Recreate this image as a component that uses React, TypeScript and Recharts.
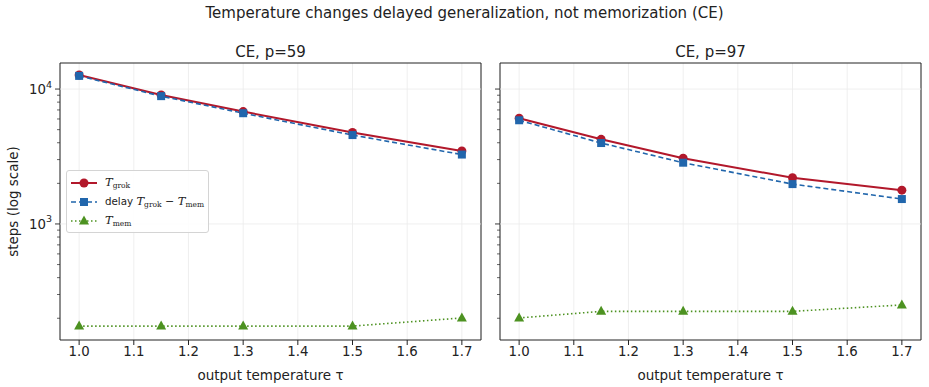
import { LineChart, Line, XAxis, YAxis, CartesianGrid, ReferenceLine, ReferenceArea, Legend } from 'recharts'

const temps = [1.0, 1.15, 1.3, 1.5, 1.7]
const xTicks = [1.0, 1.1, 1.2, 1.3, 1.4, 1.5, 1.6, 1.7]
const yTicks = [200, 300, 400, 500, 600, 700, 800, 900, 1000, 2000, 3000, 4000, 5000, 6000, 7000, 8000, 9000, 10000]

const grok59 = [12700, 9030, 6810, 4760, 3475]
const delay59 = [12520, 8860, 6620, 4560, 3270]
const mem59 = [175, 175, 175, 175, 201]

const grok97 = [6070, 4240, 3070, 2200, 1780]
const delay97 = [5870, 3980, 2845, 1975, 1530]
const mem97 = [201, 225, 225, 225, 251]

const RED = '#b2182b'
const BLUE = '#2166ac'
const GREEN = '#4d9221'
const FONT = '"DejaVu Sans", sans-serif'
const MATH = '"DejaVu Serif", serif'

const X_DOMAIN = [0.965, 1.735]
const Y_DOMAIN = [138, 15600]

function Circle(props: any) {
    const { cx, cy, index } = props
    return <circle key={'c' + index} cx={cx} cy={cy} r={4.5} fill={RED} />
}

function Square(props: any) {
    const { cx, cy, index } = props
    return <rect key={'s' + index} x={cx - 4} y={cy - 4} width={8} height={8} fill={BLUE} />
}

function Tri(props: any) {
    const { cx, cy, index } = props
    return <polygon key={'t' + index} points={`${cx},${cy - 5.5} ${cx - 5},${cy + 3.5} ${cx + 5},${cy + 3.5}`} fill={GREEN} />
}

function makeYTick(showLabel: boolean) {
    return (props: any) => {
        const { y, payload } = props
        const v = payload.value
        const major = v === 1000 || v === 10000
        const ax = 60
        return (
            <g>
                <line x1={ax - (major ? 5 : 3)} x2={ax} y1={y} y2={y} stroke="#222" strokeWidth={major ? 0.9 : 0.7} />
                {showLabel && major && (
                    <text x={ax - 8} y={y + 5} textAnchor="end" fontSize={13.3} fill="#222" fontFamily={FONT}>
                        10<tspan dy={-6.5} fontSize={9.5}>{v === 1000 ? '3' : '4'}</tspan>
                    </text>
                )}
            </g>
        )
    }
}

function M({ s, sub }: { s: string; sub: string }) {
    return (
        <span style={{ fontFamily: MATH, fontStyle: 'italic', fontSize: 11.5 }}>
            {s}
            <span style={{ fontStyle: 'normal', fontSize: 7.5, position: 'relative', top: 2.5 }}>{sub}</span>
        </span>
    )
}

function LegendBox() {
    const row = { display: 'flex', alignItems: 'center', height: 19 }
    return (
        <div style={{ border: '1px solid #d4d4d4', borderRadius: 3, background: 'rgba(255,255,255,0.85)', padding: '2px 4px 2px 3px', fontFamily: FONT, fontSize: 10.3, color: '#222', lineHeight: 1 }}>
            <div style={row}>
                <svg width={28} height={12}><line x1={1} x2={27} y1={6} y2={6} stroke={RED} strokeWidth={2} /><circle cx={14} cy={6} r={4.5} fill={RED} /></svg>
                <span style={{ marginLeft: 7 }}><M s="T" sub="grok" /></span>
            </div>
            <div style={row}>
                <svg width={28} height={12}><line x1={1} x2={27} y1={6} y2={6} stroke={BLUE} strokeWidth={1.6} strokeDasharray="5 3" /><rect x={10} y={2} width={8} height={8} fill={BLUE} /></svg>
                <span style={{ marginLeft: 7 }}>delay <M s="T" sub="grok" /><span style={{ fontFamily: MATH, fontSize: 11 }}> − </span><M s="T" sub="mem" /></span>
            </div>
            <div style={row}>
                <svg width={28} height={12}><line x1={1} x2={27} y1={6} y2={6} stroke={GREEN} strokeWidth={1.6} strokeDasharray="1.5 2.5" /><polygon points="14,0.5 9,9.5 19,9.5" fill={GREEN} /></svg>
                <span style={{ marginLeft: 7 }}><M s="T" sub="mem" /></span>
            </div>
        </div>
    )
}

function Panel({ grok, delay, mem, first }: { grok: number[]; delay: number[]; mem: number[]; first: boolean }) {
    const data = temps.map((t, i) => ({ t, grok: grok[i], delay: delay[i], mem: mem[i] }))
    return (
        <LineChart width={490} height={387} data={data} margin={{ top: 63, right: 9, bottom: 17, left: 0 }}>
            <CartesianGrid horizontal={false} stroke="#ebebeb" strokeWidth={0.8} />
            <ReferenceLine y={1000} stroke="#ebebeb" strokeWidth={0.8} />
            <ReferenceLine y={10000} stroke="#ebebeb" strokeWidth={0.8} />
            <XAxis
                dataKey="t"
                type="number"
                domain={X_DOMAIN}
                ticks={xTicks}
                interval={0}
                allowDataOverflow
                tickFormatter={(v: number) => v.toFixed(1)}
                height={30}
                axisLine={false}
                tickSize={5}
                tickLine={{ stroke: '#222' }}
                tick={{ fill: '#222', fontSize: 13.3, fontFamily: FONT }}
                label={{ value: 'output temperature τ', position: 'insideBottom', offset: -10, fill: '#222', fontSize: 13.5, fontFamily: FONT }}
            />
            <YAxis
                type="number"
                scale="log"
                domain={Y_DOMAIN}
                ticks={yTicks}
                interval={0}
                allowDataOverflow
                width={60}
                axisLine={false}
                tickLine={false}
                tickSize={0}
                tick={makeYTick(first)}
                label={first ? { value: 'steps (log scale)', angle: -90, position: 'insideLeft', offset: 13, style: { textAnchor: 'middle' }, fill: '#222', fontSize: 13.5, fontFamily: FONT } : undefined}
            />
            <ReferenceArea x1={X_DOMAIN[0]} x2={X_DOMAIN[1]} y1={Y_DOMAIN[0]} y2={Y_DOMAIN[1]} fill="none" fillOpacity={0} stroke="#222" strokeWidth={1} ifOverflow="visible" />
            <Line dataKey="grok" stroke={RED} strokeWidth={2} dot={Circle} activeDot={false} isAnimationActive={false} />
            <Line dataKey="delay" stroke={BLUE} strokeWidth={1.6} strokeDasharray="5 3" dot={Square} activeDot={false} isAnimationActive={false} />
            <Line dataKey="mem" stroke={GREEN} strokeWidth={1.6} strokeDasharray="1.5 2.5" dot={Tri} activeDot={false} isAnimationActive={false} />
            {first && (
                <Legend layout="vertical" align="center" verticalAlign="middle" wrapperStyle={{ left: 66, top: 170, width: 'auto' }} content={() => <LegendBox />} />
            )}
        </LineChart>
    )
}

export default function App() {
    const titleStyle = { position: 'absolute' as const, fontFamily: FONT, color: '#222', textAlign: 'center' as const, whiteSpace: 'nowrap' as const, lineHeight: '20px' }
    return (
        <div style={{ position: 'absolute', left: 0, top: 0, width: 929, height: 387, background: '#fff' }}>
            <div style={{ ...titleStyle, fontSize: 15, left: 0, width: 929, top: 3 }}>Temperature changes delayed generalization, not memorization (CE)</div>
            <div style={{ ...titleStyle, fontSize: 15, left: 60, width: 421, top: 42 }}>CE, p=59</div>
            <div style={{ ...titleStyle, fontSize: 15, left: 500, width: 421, top: 42 }}>CE, p=97</div>
            <div style={{ position: 'absolute', left: 0, top: 0 }}>
                <Panel grok={grok59} delay={delay59} mem={mem59} first={true} />
            </div>
            <div style={{ position: 'absolute', left: 440, top: 0 }}>
                <Panel grok={grok97} delay={delay97} mem={mem97} first={false} />
            </div>
        </div>
    )
}
